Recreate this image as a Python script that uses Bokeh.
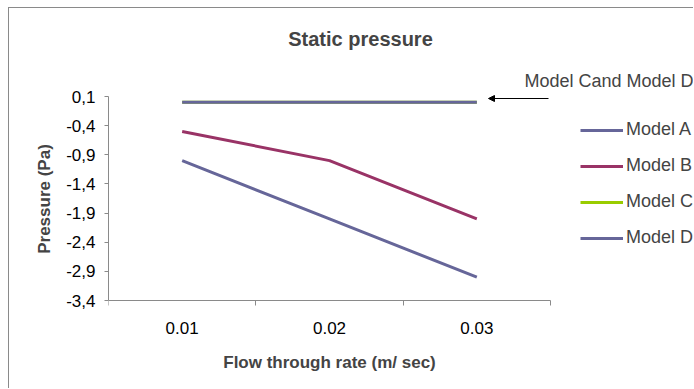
from bokeh.plotting import figure
from bokeh.models import (FixedTicker, CustomJSTickFormatter, Legend, LegendItem,
                          Label, Arrow, NormalHead, Range1d)
from bokeh.embed import file_html
from bokeh.resources import INLINE

# ---- data ----
categories = ["0.01", "0.02", "0.03"]
model_a = [-1.0, -2.0, -3.0]
model_b = [-0.5, -1.0, -2.0]
model_c = [0.0, 0.0, 0.0]
model_d = [0.0, 0.0, 0.0]
series_names = ["Model A", "Model B", "Model C", "Model D"]
series_colors = ["#666699", "#993366", "#99CC00", "#666699"]
y_ticks = [0.1, -0.4, -0.9, -1.4, -1.9, -2.4, -2.9, -3.4]
title_text = "Static pressure"
x_title = "Flow through rate (m/ sec)"
y_title = "Pressure (Pa)"
note_text = "Model Cand Model D"

FONT = "Liberation Sans"
WIN_W, WIN_H = 694, 389
OX, OY = 9, 8          # outer chart border offset (margin + border)
W, H = WIN_W - OX, WIN_H - OY
# plot-area (axes) edges in window pixels
AL, AR, AT, AB = 108, 550, 96, 300

xs = list(range(1, len(categories) + 1))
x_lo, x_hi = 0.5, len(categories) + 0.5
y_lo, y_hi = min(y_ticks), max(y_ticks)
xpp = (x_hi - x_lo) / (AR - AL)      # data units per pixel
ypp = (y_hi - y_lo) / (AB - AT)

# the frame spans from the y axis to the window's right, top and bottom edges,
# so that titles, legend and note text are drawn inside it
p = figure(width=W, height=H, output_backend="svg", toolbar_location=None,
           x_range=Range1d(x_lo, x_lo + (WIN_W - AL) * xpp),
           y_range=Range1d(y_lo - (WIN_H - AB) * ypp, y_lo + (AB - OY) * ypp),
           min_border_left=AL - OX, min_border_right=0,
           min_border_top=0, min_border_bottom=0)
p.margin = (OY - 1, 0, 0, OX - 1)
p.styles = {"border-left": "1px solid #8a8a8a", "border-top": "1px solid #8a8a8a"}
p.outline_line_color = None
p.grid.visible = False
p.background_fill_color = "white"
p.border_fill_color = "white"


def dx(px):
    return x_lo + (px - AL) * xpp


def dy(py):
    return y_lo + (AB - py) * ypp


renderers = []
for name, vals, col in zip(series_names, [model_a, model_b, model_c, model_d], series_colors):
    r = p.line(xs, vals, line_color=col, line_width=3)
    renderers.append((name, r))

# axes
xa = p.xaxis[0]
xa.fixed_location = y_lo
xa.bounds = (x_lo, x_hi)
xa.ticker = FixedTicker(ticks=xs, minor_ticks=[x - 0.5 for x in xs] + [xs[-1] + 0.5])
xa.major_label_overrides = {x: c for x, c in zip(xs, categories)}
xa.major_tick_out = 0
xa.major_tick_in = 0
xa.minor_tick_out = 5
xa.minor_tick_in = 0
xa.minor_tick_line_color = "#8a8a8a"
xa.axis_line_color = "#8a8a8a"
xa.major_label_standoff = 16
xa.major_label_text_font = FONT
xa.major_label_text_font_size = "17px"
xa.major_label_text_color = "black"

ya = p.yaxis[0]
ya.bounds = (y_lo, y_hi)
ya.ticker = FixedTicker(ticks=y_ticks, minor_ticks=[])
ya.formatter = CustomJSTickFormatter(code="return tick.toFixed(1).replace('.', ',');")
ya.major_tick_out = 4
ya.major_tick_in = 0
ya.major_tick_line_color = "#8a8a8a"
ya.axis_line_color = "#8a8a8a"
ya.major_label_standoff = 9
ya.major_label_text_font = FONT
ya.major_label_text_font_size = "17px"
ya.major_label_text_color = "black"
ya.axis_label = y_title
ya.axis_label_text_font = FONT
ya.axis_label_text_font_style = "bold"
ya.axis_label_text_font_size = "17px"
ya.axis_label_standoff = 9

# x-axis title, chart title and note
p.add_layout(Label(x=dx(329), y=dy(362), text=x_title, text_font=FONT,
                   text_font_style="bold", text_font_size="17px",
                   text_align="center", text_baseline="middle"))
p.add_layout(Label(x=dx(360), y=dy(38), text=title_text, text_font=FONT,
                   text_font_style="bold", text_font_size="20px",
                   text_align="center", text_baseline="middle"))
p.add_layout(Label(x=dx(524), y=dy(80), text=note_text, text_font=FONT,
                   text_font_size="18px", text_align="left", text_baseline="middle"))

# arrow pointing at Model C / Model D line
p.add_layout(Arrow(x_start=dx(548), y_start=dy(98), x_end=dx(488), y_end=dy(98),
                   line_color="black", line_width=1,
                   end=NormalHead(size=6, fill_color="black", line_color="black")))

# legend location is measured from the frame's bottom-left corner (window bottom)
legend = Legend(items=[LegendItem(label=n, renderers=[r]) for n, r in renderers],
                location=(580 - AL, WIN_H - 248), glyph_width=43, glyph_height=20,
                label_height=20, spacing=15, padding=0, margin=0, label_standoff=3,
                border_line_alpha=0, background_fill_alpha=0,
                label_text_font=FONT, label_text_font_size="18px")
p.add_layout(legend)

open("out.html", "w").write(file_html(p, INLINE))
